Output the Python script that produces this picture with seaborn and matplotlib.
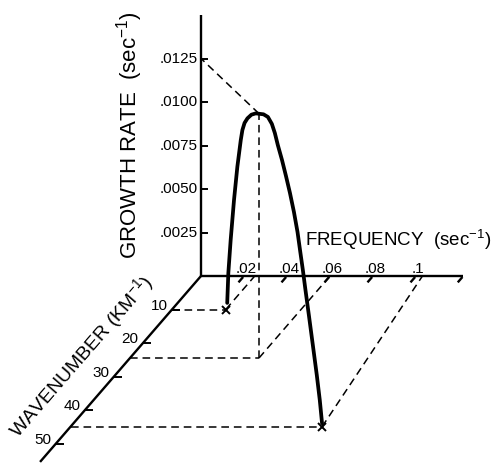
import numpy as np
import pandas as pd
import matplotlib
matplotlib.use("Agg")
import matplotlib.pyplot as plt
import seaborn as sns

# ---------------- data ----------------
freq_ticks = [0.02, 0.04, 0.06, 0.08, 0.1]
freq_tick_labels = [".02", ".04", ".06", ".08", ".1"]
growth_ticks = [0.0025, 0.0050, 0.0075, 0.0100, 0.0125]
growth_tick_labels = [".0025", ".0050", ".0075", ".0100", ".0125"]
wave_ticks = [10, 20, 30, 40, 50]
wave_tick_labels = ["10", "20", "30", "40", "50"]

# the growth-rate curve (frequency, wavenumber, growth rate)
curve_freq = [0.0266, 0.0277, 0.0302, 0.0337, 0.0372, 0.0408, 0.0425, 0.0448,
              0.0478, 0.0521, 0.0566,
              0.0641, 0.0681, 0.0717, 0.0744, 0.0771, 0.0808, 0.0844, 0.0880,
              0.0916, 0.0948, 0.0974, 0.0997, 0.1020, 0.1051, 0.1087, 0.1123,
              0.1150, 0.1170]
curve_wave = [10.68, 11.11, 12.16, 13.6, 15.04, 16.53, 17.23, 18.19,
              19.41, 21.24, 23.08,
              25.96, 27.42, 28.72, 29.69, 30.67, 31.97, 33.27, 34.56,
              35.86, 37.0, 37.97, 38.79, 39.6, 40.73, 42.03, 43.33,
              44.3, 45.0]
curve_growth = [0.00051, 0.00231, 0.00441, 0.00699, 0.00918, 0.0110, 0.01171, 0.01230,
                0.0128, 0.01336, 0.01379,
                0.01429, 0.01442, 0.01427, 0.01393, 0.01343, 0.01282, 0.01215, 0.01142,
                0.01058, 0.00965, 0.00869, 0.00781, 0.00682, 0.00560, 0.00413, 0.00265,
                0.00140, 0.0002]

# marked points (X) on the floor
mark_freq = [0.025, 0.117]
mark_wave = [10, 45]

# peak and its projections
peak_freq = 0.06
peak_wave = 24.5
peak_growth = 0.01405
peak_growth_read = 0.0125
far_axis_freq = 0.103

# axis extents
freq_max = 0.122
growth_max = 0.0150
wave_max = 55.5

# ---------------- oblique projection ----------------
PX_F = 2150.0      # pixels per unit frequency
PX_G = 17400.0     # pixels per unit growth rate
KX, KY = 2.9, 3.35 # pixels per unit wavenumber (left, down)
KF = -KX / PX_F
KG = -KY / PX_G


def proj(f, k, g):
    f = np.asarray(f, float); k = np.asarray(k, float); g = np.asarray(g, float)
    return f + k * KF, g + k * KG


W, H = 494, 465
OX, OY = 201.0, 276.0
fig = plt.figure(figsize=(W / 100, H / 100), dpi=100)
sns.set_theme(style="white")
plt.rcParams["font.family"] = ["Liberation Sans", "DejaVu Sans"]
plt.rcParams["mathtext.fontset"] = "custom"
plt.rcParams["mathtext.rm"] = "Liberation Sans"
plt.rcParams["mathtext.it"] = "Liberation Sans"
plt.rcParams["mathtext.default"] = "regular"

ax = fig.add_axes([0, 0, 1, 1])

K = "black"
AX_LW = 1.7
DASH = dict(color=K, lw=1.1, linestyle=(0, (5, 3.2)))


def seg(p0, p1, **kw):
    x, y = proj([p0[0], p1[0]], [p0[1], p1[1]], [p0[2], p1[2]])
    ax.plot(x, y, solid_capstyle="butt", **kw)


# axes lines
seg((0, 0, 0), (freq_max, 0, 0), color=K, lw=AX_LW)
seg((0, 0, 0), (0, 0, growth_max), color=K, lw=AX_LW)
seg((0, 0, 0), (0, wave_max, 0), color=K, lw=AX_LW)

# frequency ticks (slanted marks) and labels
for f, lab in zip(freq_ticks + [freq_max], freq_tick_labels + [None]):
    seg((f, 0.3, 0), (f, 1.9, 0), color=K, lw=1.7)
    if lab:
        x, y = proj(f, 0, 0)
        ax.annotate(lab, (x, y), xytext=(1.4, 2.3), textcoords="offset points",
                    ha="center", va="baseline", fontsize=11, color=K)

# growth-rate ticks and labels
for g, lab in zip(growth_ticks, growth_tick_labels):
    seg((0, 0, g), (0.0033, 0, g), color=K, lw=1.4)
    x, y = proj(0, 0, g)
    ax.annotate(lab, (x, y), xytext=(-2.3, 0), textcoords="offset points",
                ha="right", va="center", fontsize=11, color=K)

# wavenumber ticks and labels
for k, lab in zip(wave_ticks, wave_tick_labels):
    seg((0, k, 0), (0.0037, k, 0), color=K, lw=1.4)
    x, y = proj(0, k, 0)
    ax.annotate(lab, (x, y), xytext=(-3.2, 2.6), textcoords="offset points",
                ha="right", va="center", fontsize=11, color=K)

# dashed construction lines
seg((0, mark_wave[0], 0), (mark_freq[0], mark_wave[0], 0), **DASH)
seg((mark_freq[0], mark_wave[0], 0), (mark_freq[0], 0, 0), **DASH)
seg((0, peak_wave, 0), (peak_freq, peak_wave, 0), **DASH)
seg((peak_freq, peak_wave, 0), (peak_freq, 0, 0), **DASH)
seg((peak_freq, peak_wave, 0), (peak_freq, peak_wave, peak_growth), **DASH)
seg((peak_freq, peak_wave, peak_growth), (0, 0, peak_growth_read), **DASH)
seg((0, mark_wave[1], 0), (mark_freq[1], mark_wave[1], 0), **DASH)
seg((mark_freq[1], mark_wave[1], 0), (far_axis_freq, 0, 0), **DASH)

# the curve
cx, cy = proj(curve_freq, curve_wave, curve_growth)
df = pd.DataFrame({"x": cx, "y": cy})
sns.lineplot(data=df, x="x", y="y", sort=False, estimator=None, color=K,
             linewidth=2.7, ax=ax)
ax.lines[-1].set_solid_capstyle("round")
ax.lines[-1].set_solid_joinstyle("round")

# X marks
mx, my = proj(mark_freq, mark_wave, [0, 0])
ax.plot(mx, my, linestyle="none", marker="x", markersize=6, mew=1.4, color=K)

ax.set_xlim(-OX / PX_F, (W - OX) / PX_F)
ax.set_ylim((OY - H) / PX_G, OY / PX_G)
ax.axis("off")

# axis titles
fig.text(130 / W, 1 - 135 / H, "GROWTH RATE  (sec$^{-1}$)", rotation=90,
         ha="center", va="center", fontsize=16, color=K)
fig.text(398 / W, 1 - 240 / H, "FREQUENCY  (sec$^{-1}$)",
         ha="center", va="center", fontsize=13.5, color=K)
fig.text(81 / W, 1 - 357 / H, "WAVENUMBER (KM$^{-1}$)", rotation=49,
         rotation_mode="anchor", ha="center", va="center", fontsize=14, color=K)

fig.savefig("out.png", dpi=100, facecolor="white")
